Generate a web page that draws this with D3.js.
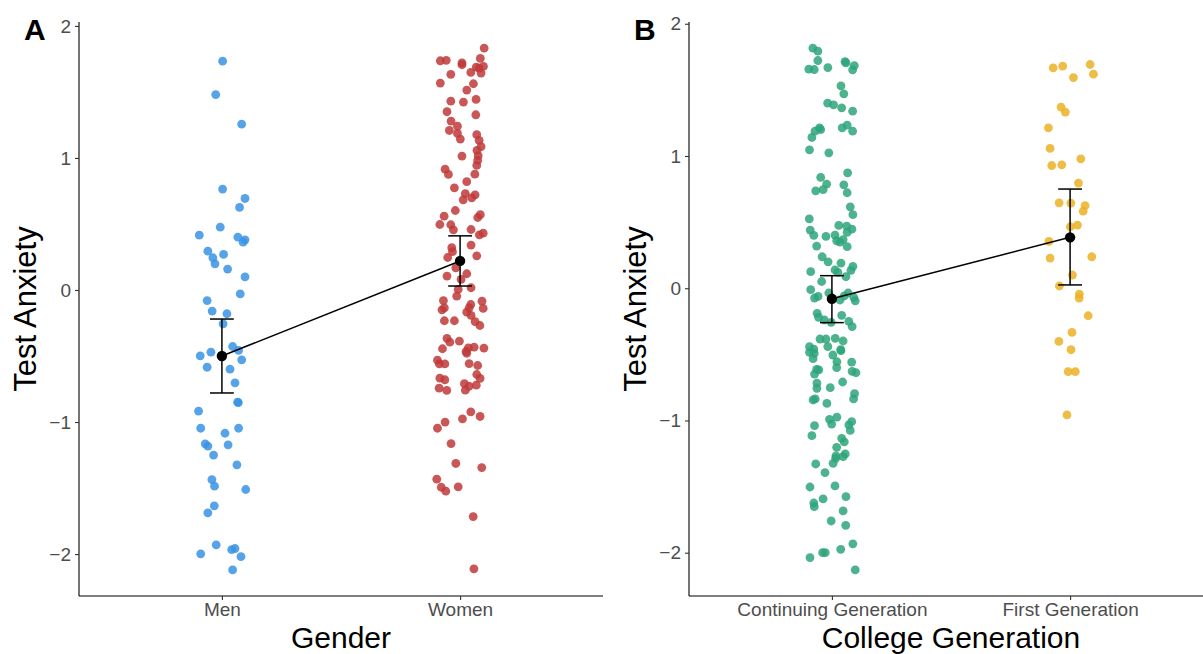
<!DOCTYPE html>
<html>
<head>
<meta charset="utf-8">
<script src="https://cdn.jsdelivr.net/npm/d3@7"></script>
<style>
  body { margin: 0; background: #fff; }
  text { font-family: "Liberation Sans", Arial, sans-serif; }
</style>
</head>
<body>
<div id="chart"></div>
<script>
// Panel A: gender
const genderCats = ["Men", "Women"];
// [jitter offset in category units, test anxiety]
const menPts = [
  [0.003,1.733],[-0.026,1.48],[0.083,1.256],[0.003,0.764],[0.097,0.693],[0.074,0.625],[-0.007,0.476],
  [-0.095,0.415],[0.067,0.40],[0.097,0.38],[0.089,0.362],[-0.059,0.294],[-0.038,0.244],[0.007,0.269],
  [-0.029,0.198],[0.024,0.158],[0.097,0.10],[0.077,-0.03],[-0.062,-0.08],[-0.041,-0.16],[0.021,-0.18],
  [0.005,-0.256],[0.045,-0.428],[0.07,-0.458],[-0.091,-0.499],[-0.046,-0.471],[0.083,-0.529],[-0.062,-0.585],
  [0.034,-0.60],[0.055,-0.703],[0.066,-0.85],[0.069,-0.853],[-0.098,-0.918],[-0.089,-1.047],[0.07,-1.047],
  [0.013,-1.085],[-0.07,-1.165],[-0.059,-1.183],[0.026,-1.173],[-0.035,-1.25],[0.063,-1.324],[-0.042,-1.436],
  [-0.031,-1.486],[0.1,-1.511],[-0.032,-1.635],[-0.059,-1.688],[-0.024,-1.93],[-0.089,-1.998],[0.041,-1.966],
  [0.055,-1.958],[0.08,-2.02],[0.045,-2.12]
];
const womenPts = [
  [0.101,1.832],[0.085,1.754],[-0.083,1.736],[-0.058,1.739],[0.008,1.72],[0.008,1.706],[0.068,1.688],
  [0.08,1.68],[0.098,1.693],[0.045,1.648],[0.088,1.643],[-0.039,1.633],[-0.083,1.567],[0.056,1.562],
  [0.028,1.514],[-0.039,1.43],[0.014,1.423],[0.067,1.443],[-0.055,1.35],[0.066,1.327],[-0.038,1.279],
  [-0.045,1.208],[-0.011,1.241],[-0.011,1.186],[0.001,1.143],[0.07,1.176],[0.08,1.133],[0.088,1.085],
  [0.071,1.057],[0.076,1.017],[0.074,0.981],[0.07,0.943],[0.008,1.014],[-0.063,0.915],[-0.049,0.875],
  [0.062,0.877],[0.028,0.82],[-0.024,0.774],[0.063,0.721],[0.049,0.698],[0.022,0.729],[0.013,0.683],
  [-0.02,0.602],[-0.067,0.559],[0.074,0.549],[0.085,0.57],[-0.085,0.496],[-0.039,0.494],[-0.028,0.456],
  [0.046,0.458],[0.081,0.418],[0.097,0.43],[0.046,0.34],[-0.035,0.32],[-0.032,0.29],[-0.052,0.246],
  [0.07,0.259],[-0.018,0.168],[-0.055,0.105],[0.028,0.123],[0.004,0.08],[0.046,0.017],[-0.008,0.004],
  [-0.014,-0.047],[-0.07,-0.08],[0.092,-0.085],[0.045,-0.11],[0.038,-0.135],[-0.076,-0.15],[-0.066,-0.135],
  [0.097,-0.14],[0.028,-0.168],[0.046,-0.193],[-0.066,-0.233],[-0.024,-0.233],[0.063,-0.239],[0.083,-0.269],
  [-0.055,-0.367],[-0.043,-0.395],[-0.003,-0.388],[-0.074,-0.445],[0.035,-0.438],[0.059,-0.433],[0.1,-0.44],
  [0.025,-0.466],[0.028,-0.479],[-0.095,-0.532],[-0.087,-0.56],[-0.064,-0.56],[0.038,-0.557],[0.074,-0.572],
  [0.07,-0.64],[0.084,-0.67],[-0.085,-0.668],[-0.064,-0.68],[0.018,-0.71],[0.038,-0.729],[0.022,-0.759],
  [0.068,-0.721],[-0.088,-0.744],[-0.056,-0.761],[0.045,-0.923],[0.084,-0.958],[0.01,-0.976],[-0.063,-1.0],
  [-0.095,-1.047],[-0.038,-1.163],[-0.018,-1.314],[0.091,-1.345],[-0.098,-1.433],[-0.079,-1.494],[-0.06,-1.524],
  [-0.008,-1.491],[0.055,-1.716],[0.058,-2.112]
];
const genderMean = [-0.50, 0.22];
const genderLo = [-0.78, 0.03];
const genderHi = [-0.22, 0.41];

// Panel B: college generation
const genCats = ["Continuing Generation", "First Generation"];
const contPts = [
  [-0.08,1.816],[-0.059,1.793],[-0.059,1.722],[-0.097,1.657],[-0.074,1.654],[-0.017,1.669],[0.055,1.714],
  [0.059,1.704],[0.094,1.684],[0.087,1.652],[0.038,1.53],[0.05,1.47],[-0.018,1.4],[0.007,1.387],
  [0.041,1.364],[0.087,1.339],[-0.052,1.213],[-0.071,1.188],[-0.047,1.2],[-0.084,1.14],[0.043,1.213],
  [0.064,1.233],[0.087,1.188],[-0.094,1.047],[-0.013,1.024],[-0.047,0.838],[0.066,0.873],[-0.022,0.788],
  [-0.037,0.745],[-0.068,0.737],[0.05,0.782],[0.064,0.722],[0.077,0.616],[0.088,0.556],[-0.095,0.525],
  [-0.091,0.44],[-0.076,0.4],[-0.025,0.392],[0.029,0.475],[0.062,0.47],[0.084,0.447],[0.064,0.422],
  [0.013,0.402],[0.02,0.359],[0.034,0.349],[0.047,0.367],[-0.064,0.319],[0.064,0.314],[-0.041,0.238],
  [-0.016,0.2],[0.038,0.19],[0.088,0.165],[0.08,0.135],[-0.089,0.125],[0.013,0.138],[0.025,0.12],
  [0.059,0.087],[-0.043,0.051],[-0.089,-0.011],[-0.013,-0.036],[-0.058,-0.062],[-0.073,-0.074],[0.068,-0.036],
  [0.052,-0.057],[0.092,-0.07],[0.034,-0.089],[0.098,-0.095],[-0.062,-0.19],[-0.056,-0.22],[-0.032,-0.24],
  [0.041,-0.205],[0.071,-0.25],[0.085,-0.29],[-0.003,-0.258],[-0.05,-0.384],[-0.025,-0.384],[0.014,-0.379],
  [0.047,-0.399],[-0.094,-0.442],[-0.076,-0.46],[-0.094,-0.485],[-0.074,-0.493],[-0.079,-0.533],[-0.017,-0.442],
  [0.037,-0.465],[0.038,-0.472],[0.004,-0.505],[0.021,-0.556],[0.02,-0.601],[0.083,-0.558],[-0.064,-0.614],
  [-0.055,-0.618],[-0.073,-0.649],[0.085,-0.629],[0.101,-0.639],[-0.063,-0.717],[-0.063,-0.757],[0.045,-0.709],
  [-0.007,-0.752],[0.095,-0.797],[0.091,-0.837],[-0.07,-0.837],[-0.079,-0.845],[-0.021,-0.871],[-0.01,-0.992],
  [-0.001,-1.027],[0.021,-0.974],[0.083,-1.009],[0.071,-1.034],[0.077,-1.075],[-0.073,-1.039],[-0.084,-1.115],
  [0.041,-1.135],[0.052,-1.162],[0.02,-1.203],[0.056,-1.253],[0.047,-1.274],[0.017,-1.268],[0.016,-1.286],
  [0.005,-1.324],[-0.068,-1.329],[-0.029,-1.394],[-0.092,-1.503],[0.013,-1.495],[0.059,-1.576],[-0.037,-1.593],
  [-0.076,-1.624],[-0.074,-1.652],[0.047,-1.684],[-0.003,-1.76],[0.058,-1.793],[0.088,-1.933],[0.037,-1.974],
  [-0.039,-2.0],[-0.028,-2.0],[-0.092,-2.037],[0.098,-2.13]
];
const firstPts = [
  [-0.071,1.667],[-0.031,1.679],[0.084,1.692],[0.098,1.619],[0.014,1.593],[-0.038,1.37],[-0.02,1.332],
  [-0.091,1.213],[-0.084,1.057],[-0.077,0.928],[-0.035,0.933],[0.045,0.979],[0.035,0.795],[-0.046,0.646],
  [0.003,0.644],[0.063,0.624],[0.055,0.583],[0.001,0.465],[0.031,0.478],[-0.089,0.354],[-0.084,0.228],
  [0.091,0.238],[0.01,0.1],[-0.045,0.017],[0.039,-0.044],[0.038,-0.074],[0.076,-0.208],[0.008,-0.334],
  [-0.047,-0.402],[0.004,-0.465],[-0.008,-0.631],[0.022,-0.631],[-0.013,-0.958]
];
const genMean = [-0.08, 0.385];
const genLo = [-0.26, 0.025];
const genHi = [0.095, 0.75];

const yTicks = [-2, -1, 0, 1, 2];

const W = 1203, H = 654;
const svg = d3.select("#chart").append("svg")
  .attr("width", W).attr("height", H);

function drawPanel(opt) {
  const g = svg.append("g");
  const all = opt.groups.flat().map(d => d[1]);
  const lo = d3.min(all), hi = d3.max(all), pad = (hi - lo) * 0.05;

  const x = d3.scalePoint().domain(opt.cats).range([opt.left, opt.right]).padding(0.6);
  const step = x.step();
  const y = d3.scaleLinear().domain([lo - pad, hi + pad]).range([opt.bottom, opt.top]);

  // jittered points
  opt.groups.forEach((pts, i) => {
    g.append("g").selectAll("circle")
      .data(pts)
      .enter()
      .append("circle")
      .attr("cx", d => x(opt.cats[i]) + d[0] * step)
      .attr("cy", d => y(d[1]))
      .attr("r", 4.4)
      .attr("fill", opt.colors[i])
      .attr("fill-opacity", 0.85);
  });

  // line between means
  g.append("path")
    .datum(opt.cats)
    .attr("d", d3.line().x(c => x(c)).y((c, i) => y(opt.mean[i])))
    .attr("stroke", "#000").attr("stroke-width", 1.5).attr("fill", "none");

  // error bars
  const capW = 0.1 * step / 2;
  opt.cats.forEach((c, i) => {
    const cx = x(c);
    g.append("line").attr("x1", cx).attr("x2", cx)
      .attr("y1", y(opt.lo[i])).attr("y2", y(opt.hi[i]))
      .attr("stroke", "#000").attr("stroke-width", 1.5);
    [opt.lo[i], opt.hi[i]].forEach(v => {
      g.append("line").attr("x1", cx - capW).attr("x2", cx + capW)
        .attr("y1", y(v)).attr("y2", y(v))
        .attr("stroke", "#000").attr("stroke-width", 1.5);
    });
  });

  g.selectAll(".mean")
    .data(opt.cats)
    .enter()
    .append("circle")
    .attr("class", "mean")
    .attr("cx", c => x(c))
    .attr("cy", (c, i) => y(opt.mean[i]))
    .attr("r", 5.2)
    .attr("fill", "#000");

  // axes
  const yAxis = g.append("g")
    .attr("transform", `translate(${opt.left},0)`)
    .call(d3.axisLeft(y).tickValues(yTicks).tickSize(4).tickPadding(4)
      .tickFormat(d => d < 0 ? "\u2212" + Math.abs(d) : d));
  const xAxis = g.append("g")
    .attr("transform", `translate(0,${opt.bottom})`)
    .call(d3.axisBottom(x).tickSize(4).tickPadding(3));

  [yAxis, xAxis].forEach(a => {
    a.select(".domain").attr("stroke", "#000").attr("stroke-width", 1.1);
    a.selectAll(".tick line").attr("stroke", "#333").attr("stroke-width", 1.1);
    a.selectAll(".tick text").attr("fill", "#4d4d4d").attr("font-size", 19)
      .attr("font-family", "Liberation Sans, Arial, sans-serif");
  });
  yAxis.select(".domain").attr("d", `M0,${opt.top}V${opt.bottom}`);
  xAxis.select(".domain").attr("d", `M${opt.left},0H${opt.right}`);

  // titles
  g.append("text")
    .attr("transform", `translate(${opt.left - 43},${(opt.top + opt.bottom) / 2}) rotate(-90)`)
    .attr("text-anchor", "middle")
    .attr("font-size", 31)
    .attr("fill", "#000")
    .text("Test Anxiety");
  g.append("text")
    .attr("x", (opt.left + opt.right) / 2)
    .attr("y", 648)
    .attr("text-anchor", "middle")
    .attr("font-size", 30)
    .attr("fill", "#000")
    .text(opt.xTitle);
  g.append("text")
    .attr("x", opt.left - 55)
    .attr("y", 40)
    .attr("font-size", 30)
    .attr("font-weight", "bold")
    .attr("fill", "#000")
    .text(opt.tag);
}

drawPanel({
  tag: "A", left: 79, right: 603, top: 22, bottom: 596,
  cats: genderCats, groups: [menPts, womenPts],
  colors: ["#3a93e4", "#c0393a"],
  mean: genderMean, lo: genderLo, hi: genderHi, xTitle: "Gender"
});

drawPanel({
  tag: "B", left: 689, right: 1213, top: 22, bottom: 596,
  cats: genCats, groups: [contPts, firstPts],
  colors: ["#2ea57a", "#ebb225"],
  mean: genMean, lo: genLo, hi: genHi, xTitle: "College Generation"
});
</script>
</body>
</html>
